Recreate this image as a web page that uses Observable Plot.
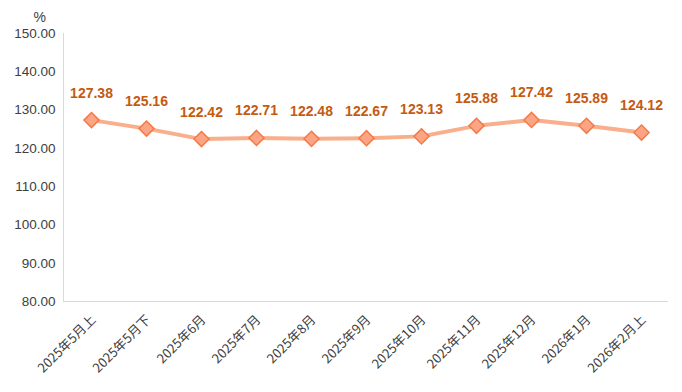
<!DOCTYPE html>
<html>
<head>
<meta charset="utf-8">
<script src="https://cdn.jsdelivr.net/npm/d3@7"></script>
<script src="https://cdn.jsdelivr.net/npm/@observablehq/plot@0.6"></script>
<style>
  body { margin: 0; background: #fff; }
  #chart { position: relative; width: 682px; height: 392px; }
</style>
</head>
<body>
<div id="chart"></div>
<script>
const categories = ["2025年5月上", "2025年5月下", "2025年6月", "2025年7月", "2025年8月", "2025年9月", "2025年10月", "2025年11月", "2025年12月", "2026年1月", "2026年2月上"];
const values = [127.38, 125.16, 122.42, 122.71, 122.48, 122.67, 123.13, 125.88, 127.42, 125.89, 124.12];
const yTicks = [80, 90, 100, 110, 120, 130, 140, 150];
const unitLabel = "%";

const data = categories.map((c, i) => ({cat: c, v: values[i]}));

const chart = Plot.plot({
  width: 682,
  height: 392,
  marginTop: 33,
  marginBottom: 91,
  marginLeft: 63,
  marginRight: 14,
  style: {fontFamily: "'Liberation Sans', 'Noto Sans CJK SC', sans-serif", fontSize: "13px", color: "#404040", background: "#fff"},
  x: {type: "point", domain: categories, padding: 0.5},
  y: {domain: [80, 150]},
  marks: [
    Plot.frame({anchor: "left", stroke: "#D9D9D9"}),
    Plot.ruleY([80], {stroke: "#D9D9D9"}),
    Plot.axisY({ticks: yTicks, tickFormat: d => d.toFixed(2), tickSize: 0, tickPadding: 8, label: null, fill: "#404040", fontSize: 13.5}),
    Plot.axisX({tickSize: 0, tickPadding: 6, tickRotate: -45, dx: 2, dy: 10, label: null, fontSize: 13, fontFamily: "'Noto Sans CJK SC', sans-serif", fill: "#404040"}),
    Plot.text([unitLabel], {frameAnchor: "top-left", dx: -30, dy: -21, fontSize: 14, fill: "#404040"}),
    Plot.line(data, {x: "cat", y: "v", stroke: "#F9AE8C", strokeWidth: 4}),
    Plot.dot(data, {x: "cat", y: "v", symbol: "diamond2", r: 6.8, fill: "#FBA585", stroke: "#F47A48", strokeWidth: 1.5}),
    Plot.text(data, {x: "cat", y: "v", text: d => d.v.toFixed(2), dy: -27, fill: "#C55A11", fontWeight: "bold", fontSize: 14})
  ]
});
document.getElementById("chart").appendChild(chart);
</script>
</body>
</html>
